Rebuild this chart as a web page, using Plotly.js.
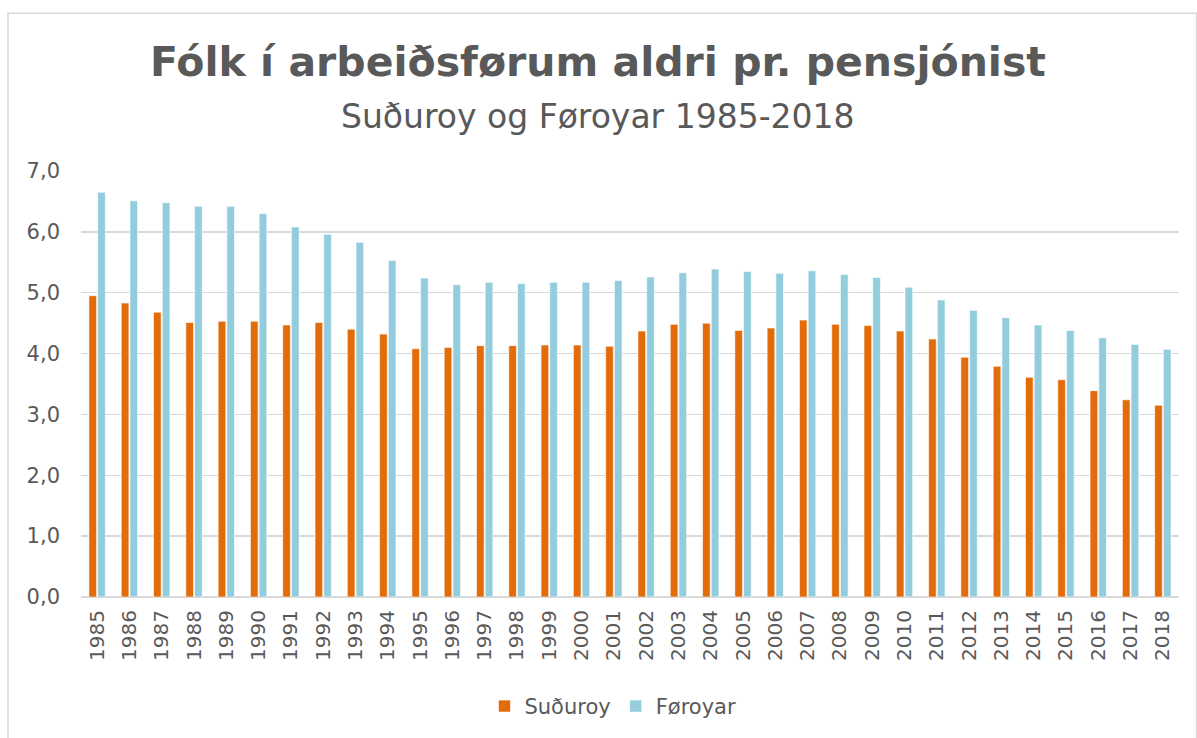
<!DOCTYPE html>
<html>
<head>
<meta charset="utf-8">
<script src="https://cdn.plot.ly/plotly-3.0.1.min.js"></script>
<style>html,body{margin:0;padding:0;background:#fff;}#chart{width:1197px;height:738px;}</style>
</head>
<body>
<div id="chart"></div>
<script>
const years = ["1985","1986","1987","1988","1989","1990","1991","1992","1993","1994","1995","1996","1997","1998","1999","2000","2001","2002","2003","2004","2005","2006","2007","2008","2009","2010","2011","2012","2013","2014","2015","2016","2017","2018"];
const suduroy = [4.95,4.83,4.68,4.51,4.53,4.53,4.47,4.51,4.40,4.32,4.08,4.10,4.13,4.13,4.14,4.14,4.12,4.37,4.48,4.50,4.38,4.42,4.55,4.48,4.46,4.37,4.24,3.94,3.79,3.61,3.57,3.39,3.24,3.15];
const foroyar = [6.65,6.51,6.48,6.42,6.42,6.30,6.08,5.96,5.83,5.53,5.24,5.13,5.17,5.15,5.17,5.17,5.20,5.26,5.33,5.39,5.35,5.32,5.36,5.30,5.25,5.09,4.88,4.71,4.59,4.47,4.38,4.26,4.15,4.07];
const yTicks = [0,1,2,3,4,5,6,7];
const titleText = "Fólk í arbeiðsførum aldri pr. pensjónist";
const subtitleText = "Suðuroy og Føroyar 1985-2018";

const font = "DejaVu Sans, Lato, sans-serif";
const textColor = "#595959";

const traces = [
  {type:"bar", name:"Suðuroy", x:years, y:suduroy,
   marker:{color:"#E36C0A", line:{color:"rgba(255,255,255,0.6)", width:1}}},
  {type:"bar", name:"Føroyar", x:years, y:foroyar,
   marker:{color:"#93CDDD", line:{color:"rgba(255,255,255,0.6)", width:1}}}
];

const layout = {
  width:1197, height:738,
  margin:{l:81, r:18, t:171, b:140, pad:0},
  paper_bgcolor:"#fff", plot_bgcolor:"#fff",
  separators:",.",
  barmode:"group", bargap:0.46, bargroupgap:0.12,
  font:{family:font, color:textColor, size:20},
  showlegend:true,
  legend:{orientation:"h", x:0.4845, xanchor:"center", y:-0.254, yanchor:"middle",
          font:{family:font, size:21, color:textColor}, traceorder:"normal", itemwidth:30},
  xaxis:{type:"category", tickangle:-90, showgrid:false, ticks:"", showline:false,
         ticklabelstandoff:8,
         tickfont:{family:font, size:20, color:textColor}},
  yaxis:{range:[0,7], tickvals:yTicks, tickformat:".1f", showgrid:true, gridcolor:"#D9D9D9", gridwidth:1.5,
         zeroline:true, zerolinecolor:"#D9D9D9", zerolinewidth:1.5, showline:false, ticks:"",
         ticklabelstandoff:20,
         tickfont:{family:font, size:21, color:textColor}},
  annotations:[
    {text:"<b>"+titleText+"</b>", xref:"paper", yref:"paper", x:0.4705, y:1.255, xanchor:"center", yanchor:"middle",
     showarrow:false, font:{family:font, size:41, color:textColor}},
    {text:subtitleText, xref:"paper", yref:"paper", x:0.4705, y:1.127, xanchor:"center", yanchor:"middle",
     showarrow:false, font:{family:font, size:33, color:textColor}}
  ],
  shapes:[
    {type:"rect", xref:"paper", yref:"paper", x0:-0.0665, x1:1.0159, y0:-0.36, y1:1.3705,
     line:{color:"#D9D9D9", width:1.5}, fillcolor:"rgba(0,0,0,0)", layer:"below"}
  ]
};

Plotly.newPlot("chart", traces, layout, {displayModeBar:false, staticPlot:true});
</script>
</body>
</html>
